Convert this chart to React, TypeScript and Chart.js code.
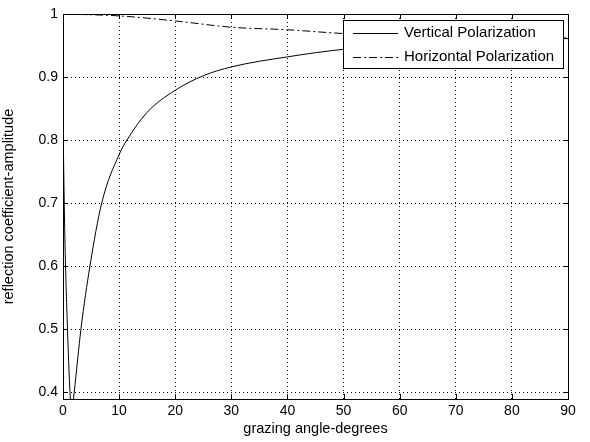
import React, { useEffect, useRef } from "react";
import { Chart, registerables } from "chart.js";

Chart.register(...registerables);

const vAngles = [0, 0.3, 0.8, 1.25, 1.55, 1.8, 2.0, 3.2, 4.8, 6.9, 10, 11.4, 15, 20, 25, 30, 40, 50, 60, 70, 80, 90];
const vValues = [0.83, 0.66, 0.5, 0.4, 0.37, 0.385, 0.4, 0.5, 0.6, 0.7, 0.777, 0.8, 0.844, 0.879, 0.902, 0.916, 0.932, 0.944, 0.951, 0.956, 0.959, 0.961];

const hAngles = [0, 10, 20, 30, 40, 50, 60, 70, 80, 90];
const hValues = [1.0, 0.997, 0.989, 0.979, 0.975, 0.969, 0.966, 0.964, 0.963, 0.962];

const xTicks = [0, 10, 20, 30, 40, 50, 60, 70, 80, 90];
const yTicks = [0.4, 0.5, 0.6, 0.7, 0.8, 0.9, 1];

const seriesLabels = ["Vertical Polarization", "Horizontal Polarization"];
const xTitle = "grazing angle-degrees";
const yTitle = "reflection coefficient-amplitude";

const FONT = "'Liberation Sans', Arial, sans-serif";

const matlabPlugin = {
  id: "matlabDecor",
  afterDatasetsDraw(chart: any) {
    const { ctx, chartArea } = chart;
    const { left, right, top, bottom } = chartArea;
    const xs = chart.scales.x;
    const ys = chart.scales.y;
    ctx.save();
    ctx.strokeStyle = "#000";
    ctx.lineWidth = 1;
    ctx.setLineDash([]);
    ctx.beginPath();
    xTicks.forEach((v) => {
      const px = Math.round(xs.getPixelForValue(v)) + 0.5;
      ctx.moveTo(px, bottom);
      ctx.lineTo(px, bottom - 5);
      ctx.moveTo(px, top);
      ctx.lineTo(px, top + 5);
    });
    yTicks.forEach((v) => {
      const py = Math.round(ys.getPixelForValue(v)) + 0.5;
      ctx.moveTo(left, py);
      ctx.lineTo(left + 5, py);
      ctx.moveTo(right, py);
      ctx.lineTo(right - 5, py);
    });
    ctx.stroke();
    ctx.strokeRect(Math.round(left) + 0.5, Math.round(top) + 0.5, Math.round(right - left), Math.round(bottom - top));

    const lx = 343.5, ly = 20.5, lw = 220, lh = 48;
    ctx.fillStyle = "#fff";
    ctx.fillRect(lx, ly, lw, lh);
    ctx.strokeRect(lx, ly, lw, lh);
    ctx.font = `15px ${FONT}`;
    ctx.fillStyle = "#000";
    ctx.textBaseline = "middle";
    ctx.textAlign = "left";
    const rows = [33, 57];
    chart.data.datasets.forEach((ds: any, i: number) => {
      const y = rows[i] + 0.5;
      ctx.beginPath();
      ctx.setLineDash(ds.borderDash || []);
      ctx.moveTo(353, y);
      ctx.lineTo(398, y);
      ctx.stroke();
      ctx.setLineDash([]);
      ctx.fillText(ds.label, 404, rows[i]);
    });
    ctx.restore();
  },
};

export default function App() {
  const ref = useRef<HTMLCanvasElement | null>(null);

  useEffect(() => {
    if (!ref.current) return;
    const chart = new Chart(ref.current, {
      type: "line",
      data: {
        datasets: [
          {
            label: seriesLabels[0],
            data: vAngles.map((x, i) => ({ x, y: vValues[i] })),
            borderColor: "#000",
            borderWidth: 1,
            pointRadius: 0,
            cubicInterpolationMode: "monotone",
            fill: false,
          },
          {
            label: seriesLabels[1],
            data: hAngles.map((x, i) => ({ x, y: hValues[i] })),
            borderColor: "#000",
            borderWidth: 1,
            borderDash: [8, 3, 2, 3],
            pointRadius: 0,
            cubicInterpolationMode: "monotone",
            fill: false,
          },
        ],
      },
      options: {
        responsive: false,
        animation: false,
        layout: { padding: { left: 0, top: 14, right: 22, bottom: 0 } },
        plugins: { legend: { display: false }, tooltip: { enabled: false } },
        scales: {
          x: {
            type: "linear",
            min: 0,
            max: 90,
            afterBuildTicks: (s: any) => {
              s.ticks = xTicks.map((v) => ({ value: v }));
            },
            afterFit: (s: any) => {
              s.height = 43;
            },
            grid: { color: "#000", lineWidth: 1, drawTicks: false },
            border: { display: false, dash: [1, 3] },
            ticks: { color: "#000", font: { family: FONT, size: 14 }, padding: 4, maxRotation: 0 },
            title: { display: true, text: xTitle, color: "#000", font: { family: FONT, size: 14.5 }, padding: { top: 0, bottom: 4 } },
          },
          y: {
            type: "linear",
            min: 0.389,
            max: 1,
            afterBuildTicks: (s: any) => {
              s.ticks = yTicks.map((v) => ({ value: v }));
            },
            afterFit: (s: any) => {
              s.width = 63;
            },
            grid: { color: "#000", lineWidth: 1, drawTicks: false },
            border: { display: false, dash: [1, 3] },
            ticks: {
              color: "#000",
              font: { family: FONT, size: 14 },
              padding: 5,
              callback: (v: any) => String(Math.round(Number(v) * 10) / 10),
            },
            title: { display: true, text: yTitle, color: "#000", font: { family: FONT, size: 14.5 }, padding: { top: 0, bottom: 0 } },
          },
        },
      } as any,
      plugins: [matlabPlugin],
    });
    return () => chart.destroy();
  }, []);

  return (
    <div style={{ position: "fixed", left: 0, top: 0, width: 590, height: 442, background: "#fff" }}>
      <canvas ref={ref} width={590} height={442} />
    </div>
  );
}
